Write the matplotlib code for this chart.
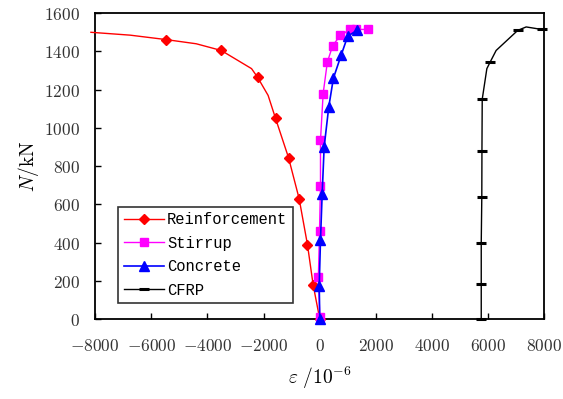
"""Load-strain curves: N versus strain for reinforcement, stirrup, concrete and CFRP."""

import matplotlib
matplotlib.use("Agg")
import matplotlib.pyplot as plt
from matplotlib.ticker import FuncFormatter

plt.rcParams["mathtext.fontset"] = "cm"

# reinforcement (line points, markers on a subset)
REBAR_EPS = [-8150, -6750, -5480, -4400, -3510, -2430, -2216, -1840, -1576, -1114, -735, -439, -237, 0]
REBAR_N = [1500, 1485, 1462, 1440, 1405, 1310, 1265, 1170, 1050, 845, 630, 390, 180, 0]
REBAR_MARK = [2, 4, 6, 8, 9, 10, 11, 12, 13]

STIRRUP_EPS = [0, -50, -10, 25, 25, 120, 270, 460, 735, 1090, 1300, 1720]
STIRRUP_N = [10, 220, 460, 695, 935, 1180, 1345, 1430, 1485, 1515, 1515, 1515]

CONCRETE_EPS = [0, -20, 25, 85, 155, 320, 485, 760, 995, 1330]
CONCRETE_N = [0, 175, 415, 655, 900, 1110, 1260, 1380, 1480, 1510]

CFRP_EPS = [5750, 5750, 5750, 5770, 5775, 5785, 5950, 6070, 6280, 7050, 7350, 7900]
CFRP_N = [0, 185, 400, 640, 880, 1150, 1310, 1345, 1405, 1510, 1528, 1515]
CFRP_MARK = [0, 1, 2, 3, 4, 5, 7, 9, 11]


def tick_fmt(v, pos):
    return f"${v:g}$"


def main():
    fig = plt.figure(figsize=(5.63, 3.99), dpi=100)
    ax = fig.add_axes([0.169, 0.2, 0.798, 0.767])

    ax.plot(REBAR_EPS, REBAR_N, color="#ff0000", lw=1, marker="D", ms=5.5,
            markevery=REBAR_MARK, label="Reinforcement", clip_on=False, zorder=3)
    ax.plot(STIRRUP_EPS, STIRRUP_N, color="#ff00ff", lw=1, marker="s", ms=6,
            label="Stirrup", clip_on=False, zorder=3)
    ax.plot(CONCRETE_EPS, CONCRETE_N, color="#0000ff", lw=1.2, marker="^", ms=7,
            label="Concrete", clip_on=False, zorder=4)
    ax.plot(CFRP_EPS, CFRP_N, color="black", lw=1, marker="_", ms=7, mew=2.2,
            markevery=CFRP_MARK, label="CFRP", clip_on=False, zorder=3)

    ax.set_xlim(-8000, 8000)
    ax.set_ylim(0, 1600)
    ax.set_xticks(range(-8000, 8001, 2000))
    ax.set_yticks(range(0, 1601, 200))
    ax.xaxis.set_major_formatter(FuncFormatter(tick_fmt))
    ax.yaxis.set_major_formatter(FuncFormatter(tick_fmt))
    ax.tick_params(direction="in", length=4, width=1, labelsize=12.5,
                   colors="black", labelcolor="#333333")
    ax.tick_params(axis="x", pad=13)
    ax.tick_params(axis="y", pad=11)
    for s in ax.spines.values():
        s.set_linewidth(1.3)

    ax.set_xlabel(r"$\varepsilon\ /10^{-6}$", fontsize=14, labelpad=7)
    ax.set_ylabel(r"$N/\mathrm{kN}$", fontsize=14, labelpad=2)

    leg = ax.legend(loc="lower left", bbox_to_anchor=(0.051, 0.052),
                    prop={"family": "Liberation Mono", "size": 11.2},
                    frameon=True, fancybox=False, edgecolor="black",
                    numpoints=1, handlelength=2.6, handletextpad=0.2,
                    borderpad=0.35, labelspacing=0.55, borderaxespad=0)
    leg.get_frame().set_linewidth(1.2)

    fig.savefig("out.png", dpi=100)


if __name__ == "__main__":
    main()
